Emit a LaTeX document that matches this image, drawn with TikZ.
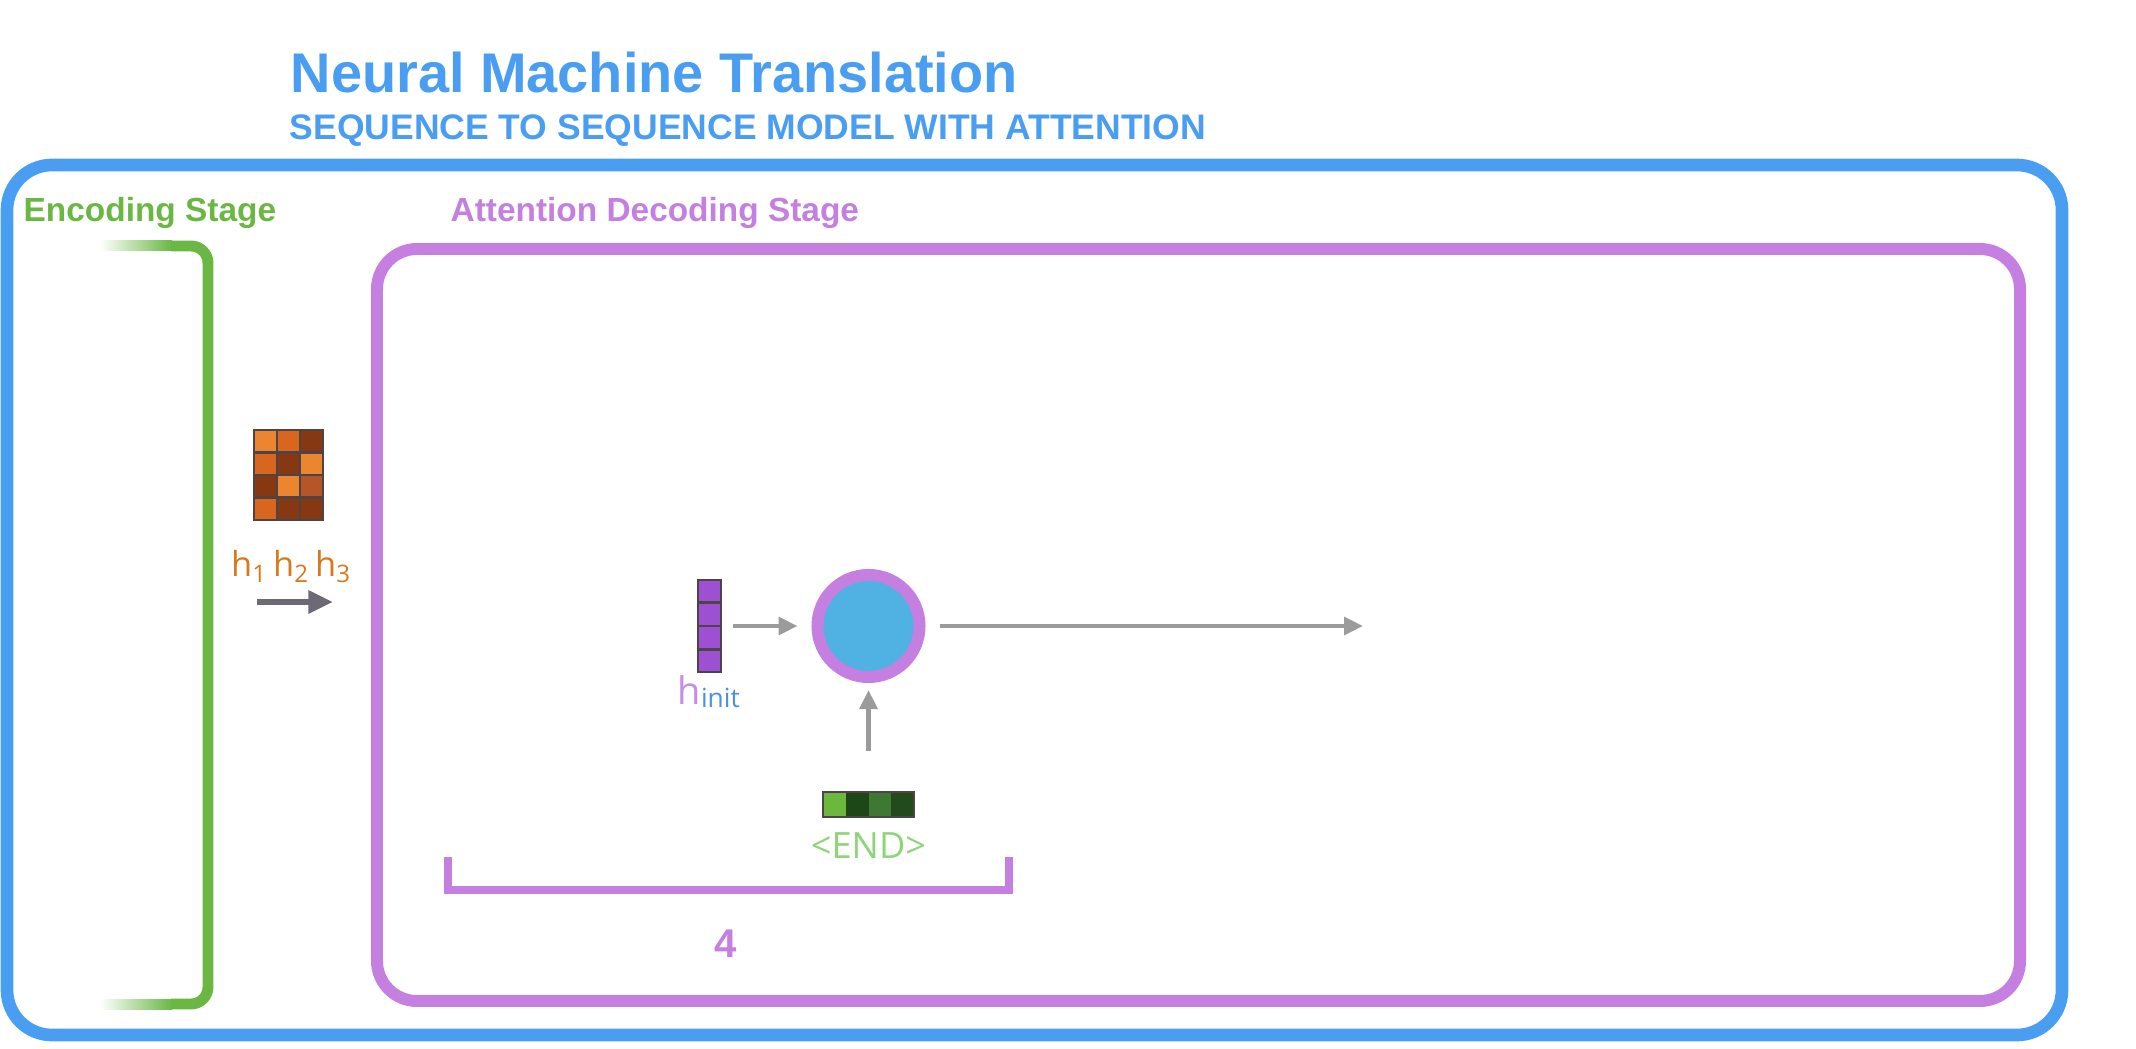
\documentclass[tikz,border=0pt]{standalone}
\usepackage{fontspec}
\setmainfont{Liberation Sans}
\newfontfamily\softfont{Open Sans}
\usetikzlibrary{arrows.meta,positioning,calc}
\definecolor{frameblue}{HTML}{4A9EF2}
\definecolor{encgreen}{HTML}{6AB843}
\definecolor{decpurple}{HTML}{C47FE0}
\definecolor{arrowgray}{HTML}{9B9B9B}
\definecolor{darkarrow}{HTML}{6D6A75}
\definecolor{hiddenorange}{HTML}{D9791E}
\definecolor{cellblue}{HTML}{4FB2E3}
\definecolor{vecpurple}{HTML}{9E50D2}
\definecolor{cellborder}{HTML}{4E4446}
\definecolor{initblue}{HTML}{4C90E0}
\definecolor{hpurple}{HTML}{C98BE8}
\definecolor{endgreen}{HTML}{8ED57A}
\definecolor{orangeA}{HTML}{EC8530}
\definecolor{orangeB}{HTML}{D9661F}
\definecolor{orangeC}{HTML}{853812}
\definecolor{orangeD}{HTML}{B5552A}
\definecolor{greenA}{HTML}{6BB83D}
\definecolor{greenB}{HTML}{1E4718}
\definecolor{greenC}{HTML}{3E7833}
\definecolor{greenD}{HTML}{224A1B}
\tikzset{
  headtext/.style={anchor=base west, inner sep=0pt, text=frameblue, font=\fontsize{15.9}{19}\selectfont\bfseries},
  subhead/.style={anchor=base west, inner sep=0pt, text=frameblue, font=\fontsize{10.1}{12}\selectfont\bfseries},
  stagelabel/.style={anchor=base west, inner sep=0pt, font=\fontsize{9.5}{11}\selectfont\bfseries},
  outerframe/.style={draw=frameblue, line width=3.6pt, rounded corners=0.45cm},
  innerframe/.style={draw=decpurple, line width=3.4pt, rounded corners=0.40cm},
  encbracket/.style={draw=encgreen, line width=3.1pt, rounded corners=0.17cm},
  vec/.style={rectangle, draw=cellborder, line width=0.6pt, inner sep=0pt},
  rnncell/.style={circle, fill=cellblue, draw=decpurple, line width=3.4pt, minimum size=1.02cm, inner sep=0pt},
  flow/.style={draw=arrowgray, line width=1.2pt, -{Triangle[length=5.4pt,width=5pt]}},
  readarrow/.style={draw=darkarrow, line width=1.7pt, -{Triangle[length=7pt,width=6.3pt]}}
}
\begin{document}
\begin{tikzpicture}[x=0.01cm, y=-0.01cm]
  \useasboundingbox (0,0) rectangle (2136,1049);
  \node[headtext] (title) at (290,93) {Neural Machine Translation};
  \node[subhead] (subtitle) at (289,140) {SEQUENCE TO SEQUENCE MODEL WITH ATTENTION};
  \draw[outerframe] (7,165) rectangle (2062,1035);
  \node[stagelabel, text=encgreen] (enclabel) at (23,222) {Encoding Stage};
  \node[stagelabel, text=decpurple] (declabel) at (450,222) {Attention Decoding Stage};
  \draw[innerframe] (377,249) rectangle (2020,1001);
  \shade[left color=white, right color=encgreen] (100,241) rectangle (172,251);
  \shade[left color=white, right color=encgreen] (100,999) rectangle (172,1009);
  \draw[encbracket] (171,246) -- (208,246) -- (208,1004) -- (171,1004);
  \foreach \c [count=\k from 0] in {orangeA,orangeB,orangeC,orangeB,orangeC,orangeA,orangeC,orangeA,orangeD,orangeB,orangeC,orangeC}{
    \pgfmathtruncatemacro\cx{mod(\k,3)}
    \pgfmathtruncatemacro\cy{div(\k,3)}
    \fill[\c] (254+23*\cx,430+22.5*\cy) rectangle ++(23,22.5);
  }
  \node[vec, minimum width=0.69cm, minimum height=0.90cm] (states) at (288.5,475) {};
  \foreach \cx in {1,2} \draw[cellborder, line width=0.6pt] (254+23*\cx,430) -- ++(0,90);
  \foreach \cy in {1,2,3} \draw[cellborder, line width=0.6pt] (254,430+22.5*\cy) -- ++(69,0);
  \node[anchor=base, inner sep=0pt, text=hiddenorange, font=\softfont\fontsize{9.8}{11}\selectfont] (hlabels) at (291.5,577) {h\textsubscript{1}\hspace{1.5pt}h\textsubscript{2}\hspace{1.5pt}h\textsubscript{3}};
  \coordinate (readstart) at (257,602);
  \coordinate (readend) at (333,602);
  \draw[readarrow] (readstart) -- (readend);
  \node[vec, fill=vecpurple, minimum width=0.23cm, minimum height=0.92cm] (hinit) at (709.5,626) {};
  \foreach \k in {1,2,3}
    \draw[cellborder, line width=0.6pt] ($(hinit.north west)!\k/4!(hinit.south west)$) -- ($(hinit.north east)!\k/4!(hinit.south east)$);
  \node[anchor=base west, inner sep=0pt, font=\softfont] (hinitlabel) at (677,704) {{\color{hpurple}\fontsize{10.8}{12}\selectfont h}{\color{initblue}\fontsize{7.5}{9}\selectfont\raisebox{-1.1pt}{init}}};
  \node[rnncell] (cell) at (868.5,626) {};
  \foreach \c [count=\k from 0] in {greenA,greenB,greenC,greenD}
    \fill[\c] (823+22.75*\k,792) rectangle ++(22.75,25);
  \node[vec, minimum width=0.91cm, minimum height=0.25cm] (endvec) at (868.5,804.5) {};
  \node[anchor=base, inner sep=0pt, text=endgreen, font=\softfont\fontsize{10.3}{12}\selectfont] (endlabel) at (868.5,858) {\textless END\textgreater};
  \coordinate (outend) at (1363,626);
  \draw[flow, shorten <=0.11cm, shorten >=0.14cm] (hinit) -- (cell);
  \draw[flow, shorten <=0.40cm, shorten >=0.07cm] (endvec) -- (cell);
  \draw[flow, shorten <=0.14cm] (cell) -- (outend);
  \coordinate (brackl) at (448,857);
  \coordinate (brackr) at (1009,857);
  \draw[decpurple, line width=2pt] (brackl) -- (448,890) -- (1009,890) -- (brackr);
  \node[anchor=base, inner sep=0pt, text=decpurple, font=\fontsize{11.4}{13}\selectfont\bfseries] (steps) at (726,957) {4};
\end{tikzpicture}
\end{document}
